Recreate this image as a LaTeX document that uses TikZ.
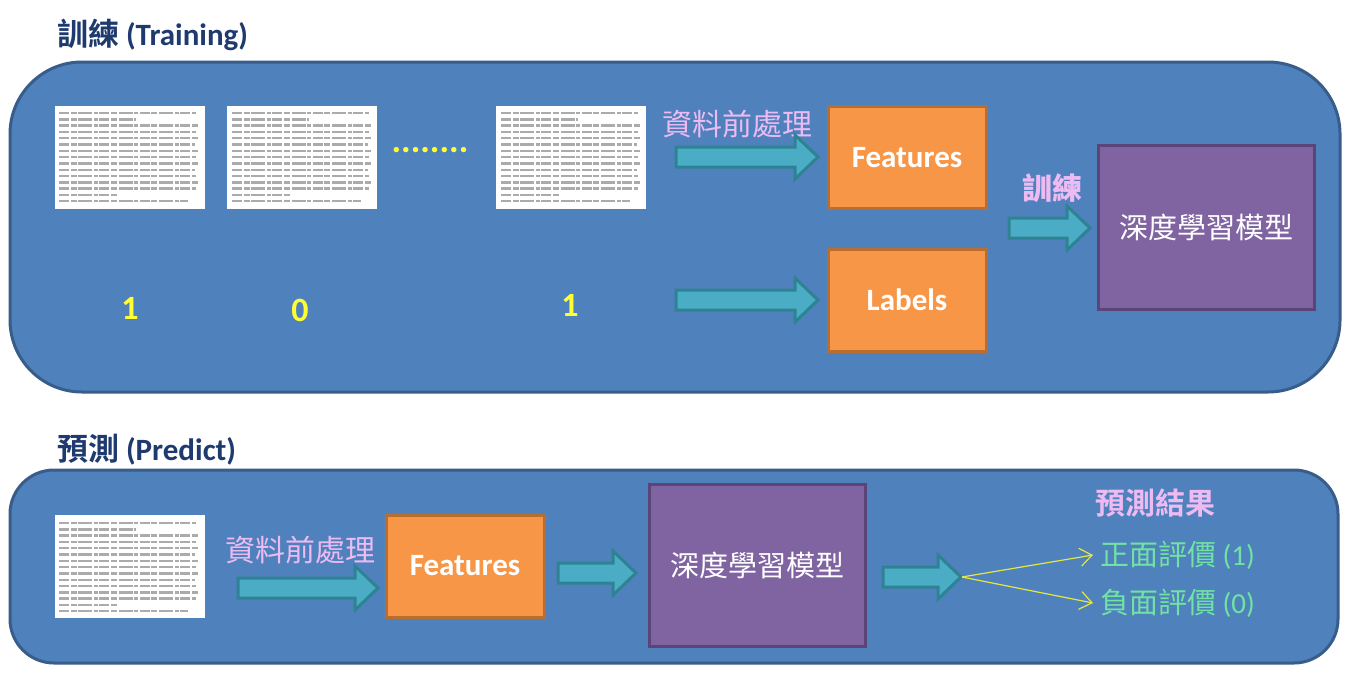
\documentclass[tikz,border=0pt]{standalone}
\usepackage{fontspec}
\setmainfont{Carlito}
\newfontfamily\cjk{Noto Sans CJK TC}
\newfontfamily\cjkb{Noto Sans CJK TC}[BoldFont={* Bold}]
\usetikzlibrary{arrows.meta}
\definecolor{panelblue}{HTML}{4F81BD}
\definecolor{panelborder}{HTML}{385D8A}
\definecolor{tealfill}{HTML}{4BACC6}
\definecolor{tealdraw}{HTML}{2E8393}
\definecolor{orangefill}{HTML}{F79646}
\definecolor{orangedraw}{HTML}{B96D2E}
\definecolor{purplefill}{HTML}{8064A2}
\definecolor{purpledraw}{HTML}{5B4578}
\definecolor{pinktext}{HTML}{EDBBF2}
\definecolor{greentext}{HTML}{70E2A4}
\definecolor{yel}{HTML}{FFFF33}
\definecolor{yelarrow}{HTML}{E6E640}
\definecolor{navy}{HTML}{1F3A6E}
\definecolor{doctext}{HTML}{ABABAB}
\begin{document}
\begin{tikzpicture}[x=0.5pt,y=-0.5pt,
  panel/.style={fill=panelblue,draw=panelborder,line width=1.5pt},
  blockarr/.style={fill=tealfill,draw=tealdraw,line width=1.5pt,line join=miter},
  orangebox/.style={rectangle,fill=orangefill,draw=orangedraw,line width=1.5pt,text=white,font=\fontsize{15.5}{18}\selectfont\bfseries,minimum width=79pt,minimum height=51pt},
  purplebox/.style={rectangle,fill=purplefill,draw=purpledraw,line width=1.5pt,text=white,font=\fontsize{14.5}{18}\selectfont\cjk},
  doc/.style={rectangle,fill=white,draw=none,minimum width=75pt,minimum height=51.5pt,inner sep=0pt},
  titletext/.style={text=navy,font=\fontsize{15.5}{19}\selectfont\bfseries},
  pinklabel/.style={text=pinktext,font=\fontsize{15}{18}\selectfont\cjk},
  greenlabel/.style={text=greentext,font=\fontsize{14.5}{18}\selectfont\cjk,anchor=west},
  digit/.style={text=yel,font=\fontsize{17}{20}\selectfont\bfseries},
  thinarr/.style={draw=yelarrow,line width=0.6pt,-{Straight Barb[length=6pt,width=9pt]}}
]
\useasboundingbox (0,0) rectangle (1368,680);
\fill[white] (0,0) rectangle (1368,680);

% block arrow macro: x1, x2 (tip), yc
\newcommand\blockarrow[3]{%
  \draw[blockarr] (#1,#3-10) -- (#2-23,#3-10) -- (#2-23,#3-22) -- (#2,#3) -- (#2-23,#3+22) -- (#2-23,#3+10) -- (#1,#3+10) -- cycle;}
% document lines macro: left x, top y
\newcommand\doclines[2]{%
  \foreach \i/\l in {0/0.98,1/0.55,2/0.99,3/0.98,4/0.99,5/0.97,6/0.99,7/0.98,8/0.99,9/0.97,10/0.98,11/0.99,12/0.98,13/0.42,14/0.92}{
    \draw[doctext,line width=1.2pt,dash pattern=on 5pt off 0.8pt on 3pt off 0.8pt on 7pt off 0.8pt on 2pt off 0.8pt]
      (#1+4,#2+8+\i*6.3) -- ++(\l*140,0);}}

% ===== Training =====
\node[titletext,anchor=west] (ttrain) at (50,35) {{\cjkb\bfseries 訓練} (Training)};
\draw[panel,rounded corners=36pt] (10,62) rectangle (1340,392);

\node[doc] (d1) at (130,157) {};
\doclines{55}{105}
\node[doc] (d2) at (302,157) {};
\doclines{228}{105}
\node[text=yel,font=\fontsize{18}{20}\selectfont\bfseries] (dots) at (430,150) {........};
\node[doc] (d3) at (571,157) {};
\doclines{497}{105}

\node[digit] (l1) at (130,308) {1};
\node[digit] (l2) at (300,310) {0};
\node[digit] (l3) at (570,305) {1};

\node[pinklabel] (pre1) at (737,124) {資料前處理};
\blockarrow{676}{818}{157}
\node[orangebox] (feat1) at (907,157.5) {Features};
\blockarrow{676}{818}{300}
\node[orangebox] (lab1) at (907,300) {Labels};

\node[pinklabel] (trainlbl) at (1052,188) {\bfseries 訓練};
\blockarrow{1009}{1090}{228}
\node[purplebox,minimum width=108pt,minimum height=82pt] (model1) at (1206.5,227.5) {深度學習模型};

% ===== Predict =====
\node[titletext,anchor=west] (tpred) at (50,450) {{\cjkb\bfseries 預測} (Predict)};
\draw[panel,rounded corners=22pt] (10,470) rectangle (1338,663);

\node[doc] (d4) at (130,566) {};
\doclines{55}{515}
\node[pinklabel] (pre2) at (300,550) {資料前處理};
\blockarrow{238}{378}{588}
\node[orangebox] (feat2) at (465,566) {Features};
\blockarrow{558}{636}{573}
\node[purplebox,minimum width=108pt,minimum height=81pt] (model2) at (757,565.5) {深度學習模型};
\blockarrow{883}{961}{577}

\coordinate (fork) at (962,577);
\node[greenlabel] (pos) at (1093,555) {正面評價 {\fontspec{Carlito}(1)}};
\node[greenlabel] (neg) at (1093,603) {負面評價 {\fontspec{Carlito}(0)}};
\node[pinklabel,font=\fontsize{15}{18}\selectfont\cjkb\bfseries] (res) at (1155,503) {預測結果};
\draw[thinarr] (fork) -- (pos.west);
\draw[thinarr] (fork) -- (neg.west);
\end{tikzpicture}
\end{document}
